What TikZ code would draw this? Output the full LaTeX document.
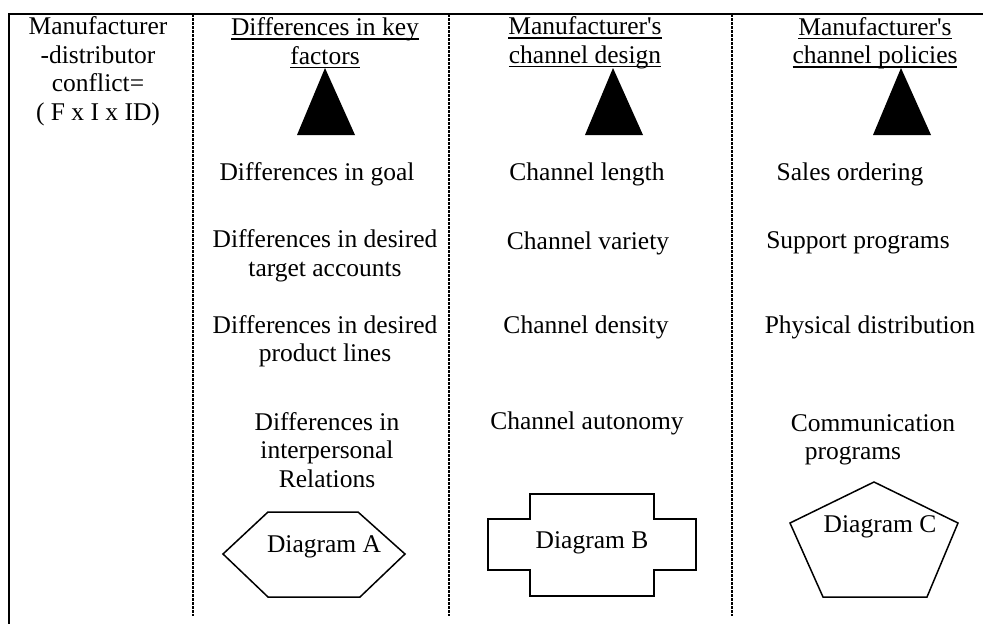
\documentclass[tikz,border=0pt]{standalone}
\usepackage{fontspec}
\newfontfamily\libser{Liberation Serif}
\newcommand\myul[1]{\setbox0\hbox{#1}\rlap{\vrule height -2.5pt depth 4pt width \wd0}\box0}
\begin{document}
\begin{tikzpicture}[x=1pt,y=-1pt,
  txt/.style={inner sep=0pt,align=center,font=\libser\fontsize{25.5}{28.5}\selectfont},
  border/.style={line width=1.6pt},
  dotline/.style={line width=1.8pt,dash pattern=on 2.5pt off 1.5pt},
  outl/.style={line width=1.5pt,line join=miter},
  tri/.style={fill=black,draw=none}]
\useasboundingbox (0,0) rectangle (983,624);
% frame lines
\coordinate (tl) at (9,14);
\coordinate (tr) at (983,14);
\coordinate (bl) at (9,624);
\draw[border] (bl) -- (tl) -- (tr);
\foreach \x/\n in {193/a,449/b,732/c}{
  \coordinate (top\n) at (\x,14);
  \coordinate (bot\n) at (\x,616);
  \draw[dotline] (top\n) -- (bot\n);
}
% column 1
\node[txt] (c1) at (98,71) {Manufacturer\\-distributor\\conflict=\\( F x I x ID)};
% headers
\node[txt] (h2) at (325,43) {\myul{Differences in key}\\\myul{factors}};
\node[txt] (h3) at (585,43) {\myul{Manufacturer's}\\\myul{channel design}};
\node[txt] (h4) at (875,43) {\myul{Manufacturer's}\\\myul{channel policies}};
% triangles
\fill[tri] (325,68) -- (355,135) -- (297,135) -- cycle;
\fill[tri] (613,68) -- (643,135) -- (585,135) -- cycle;
\fill[tri] (901,68) -- (931,135) -- (873,135) -- cycle;
% row 1
\node[txt] (r1a) at (317,174) {Differences in goal};
\node[txt] (r1b) at (587,174) {Channel length};
\node[txt] (r1c) at (850,174) {Sales ordering};
% row 2
\node[txt] (r2a) at (325,256) {Differences in desired\\target accounts};
\node[txt] (r2b) at (588,243) {Channel variety};
\node[txt] (r2c) at (858,243) {Support programs};
% row 3
\node[txt] (r3a) at (325,341) {Differences in desired\\product lines};
\node[txt] (r3b) at (586,327) {Channel density};
\node[txt] (r3c) at (870,327) {Physical distribution};
% row 4
\node[txt] (r4a) at (327,450) {Differences in\\interpersonal\\Relations};
\node[txt] (r4b) at (587,423) {Channel autonomy};
\node[txt] (r4c) at (873,423) {Communication};
\node[txt] (r4d) at (853,456) {programs};
% diagram shapes
\draw[outl] (223,554) -- (268,512) -- (358,512) -- (405,554) -- (360,597) -- (268,597) -- cycle;
\node[txt] (dA) at (324,547) {Diagram A};
\draw[outl] (530,494) -- (654,494) -- (654,519) -- (696,519) -- (696,570) -- (654,570) -- (654,596) -- (530,596) -- (530,570) -- (488,570) -- (488,519) -- (530,519) -- cycle;
\node[txt] (dB) at (592,543) {Diagram B};
\draw[outl] (874,482) -- (958,523) -- (927,597) -- (823,597) -- (790,523) -- cycle;
\node[txt] (dC) at (880,527) {Diagram C};
\end{tikzpicture}
\end{document}
